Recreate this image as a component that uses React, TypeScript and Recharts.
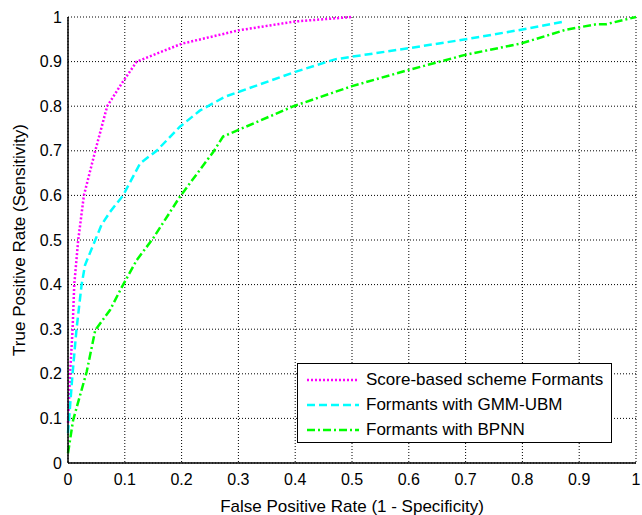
import React from 'react';
import { LineChart, Line, XAxis, YAxis, CartesianGrid, Legend } from 'recharts';

// false positive rate / true positive rate
const scoreFpr = [0, 0.002, 0.0035, 0.008, 0.011, 0.018, 0.028, 0.048, 0.069, 0.094, 0.121, 0.2, 0.3, 0.4, 0.5];
const scoreTpr = [0.09, 0.15, 0.197, 0.298, 0.4, 0.5, 0.6, 0.7, 0.8, 0.85, 0.9, 0.94, 0.97, 0.99, 1.0];

const gmmFpr = [0, 0.008, 0.015, 0.024, 0.03, 0.048, 0.059, 0.074, 0.097, 0.127, 0.156, 0.197, 0.232, 0.276, 0.4, 0.47, 0.5, 0.6, 0.7, 0.8, 0.875];
const gmmTpr = [0.067, 0.2, 0.3, 0.4, 0.444, 0.5, 0.534, 0.563, 0.6, 0.672, 0.7, 0.754, 0.79, 0.821, 0.877, 0.905, 0.911, 0.93, 0.95, 0.972, 0.99];

const bpnnFpr = [0, 0.009, 0.033, 0.048, 0.074, 0.095, 0.121, 0.15, 0.197, 0.256, 0.273, 0.397, 0.5, 0.599, 0.699, 0.799, 0.875, 0.931, 0.948, 1.0];
const bpnnTpr = [0.022, 0.096, 0.205, 0.298, 0.343, 0.395, 0.455, 0.504, 0.597, 0.698, 0.732, 0.8, 0.845, 0.881, 0.915, 0.941, 0.971, 0.984, 0.984, 1.0];

const ticks = [0, 0.1, 0.2, 0.3, 0.4, 0.5, 0.6, 0.7, 0.8, 0.9, 1];
const tickLabels = ['0', '0.1', '0.2', '0.3', '0.4', '0.5', '0.6', '0.7', '0.8', '0.9', '1'];

const seriesNames = ['Score-based scheme Formants', 'Formants with GMM-UBM', 'Formants with BPNN'];
const seriesColors = ['#ff00ff', '#00ffff', '#00ff00'];
const seriesDash = ['2 2', '8 4', '8 3 2 3'];

const toPoints = (xs: number[], ys: number[]) => xs.map((x, i) => ({ x, y: ys[i] }));

const seriesData = [
  toPoints(scoreFpr, scoreTpr),
  toPoints(gmmFpr, gmmTpr),
  toPoints(bpnnFpr, bpnnTpr),
];

const font = 'Liberation Sans, Arial, sans-serif';
const fmt = (v: number) => tickLabels[ticks.indexOf(v)] ?? String(v);

const LegendBox = () => (
  <div
    style={{
      border: '1.5px solid #000',
      background: '#fff',
      padding: '3px 8px 0 9px',
      fontFamily: font,
      fontSize: 17,
      color: '#000',
      boxSizing: 'border-box',
      width: 315,
      height: 80,
    }}
  >
    {seriesNames.map((name) => (
      <div key={name} style={{ display: 'flex', alignItems: 'center', height: 25, lineHeight: '25px' }}>
        <svg width={52} height={6} style={{ marginRight: 7, flex: 'none' }}>
          <line x1={0} y1={3} x2={52} y2={3} stroke={seriesColors[seriesNames.indexOf(name)]} strokeWidth={2.5} strokeDasharray={seriesDash[seriesNames.indexOf(name)]} />
        </svg>
        <span style={{ whiteSpace: 'nowrap' }}>{name}</span>
      </div>
    ))}
  </div>
);

export default function App() {
  return (
    <div style={{ position: 'absolute', left: 0, top: 0, background: '#fff' }}>
      <LineChart width={642} height={515} margin={{ top: 17, right: 6, bottom: 22, left: 8 }}>
        <CartesianGrid stroke="#000" strokeDasharray="1 2" strokeWidth={1} horizontalValues={ticks} verticalValues={ticks} />
        <XAxis
          type="number"
          dataKey="x"
          domain={[0, 1]}
          ticks={ticks}
          tickFormatter={fmt}
          allowDuplicatedCategory={false}
          height={30}
          tickLine={false}
          tickMargin={5}
          axisLine={{ stroke: '#000', strokeWidth: 1.5 }}
          tick={{ fill: '#000', fontSize: 16, fontFamily: font }}
          label={{ value: 'False Positive Rate (1 - Specificity)', position: 'insideBottom', offset: -19, fill: '#000', fontSize: 17, fontFamily: font }}
        />
        <XAxis xAxisId="top" orientation="top" type="number" dataKey="x" domain={[0, 1]} ticks={ticks} height={0} tick={false} tickLine={false} axisLine={{ stroke: '#000', strokeWidth: 1.5 }} />
        <YAxis
          type="number"
          dataKey="y"
          domain={[0, 1]}
          ticks={ticks}
          tickFormatter={fmt}
          width={60}
          tickLine={false}
          tickMargin={0}
          axisLine={{ stroke: '#000', strokeWidth: 1.5 }}
          tick={{ fill: '#000', fontSize: 16, fontFamily: font }}
          label={{ value: 'True Positive Rate (Sensitivity)', angle: -90, position: 'insideLeft', offset: 11, style: { textAnchor: 'middle' }, fill: '#000', fontSize: 17, fontFamily: font }}
        />
        <YAxis yAxisId="right" orientation="right" type="number" domain={[0, 1]} ticks={ticks} width={0} tick={false} tickLine={false} axisLine={{ stroke: '#000', strokeWidth: 1.5 }} />
        {seriesData.map((d, i) => (
          <Line
            key={seriesNames[i]}
            data={d}
            dataKey="y"
            name={seriesNames[i]}
            type="linear"
            stroke={seriesColors[i]}
            strokeWidth={2.5}
            strokeDasharray={seriesDash[i]}
            dot={false}
            activeDot={false}
            isAnimationActive={false}
          />
        ))}
        <Legend
          layout="vertical"
          align="center"
          verticalAlign="middle"
          content={<LegendBox />}
          wrapperStyle={{ left: 297, top: 363, width: 315, height: 80 }}
        />
      </LineChart>
    </div>
  );
}
